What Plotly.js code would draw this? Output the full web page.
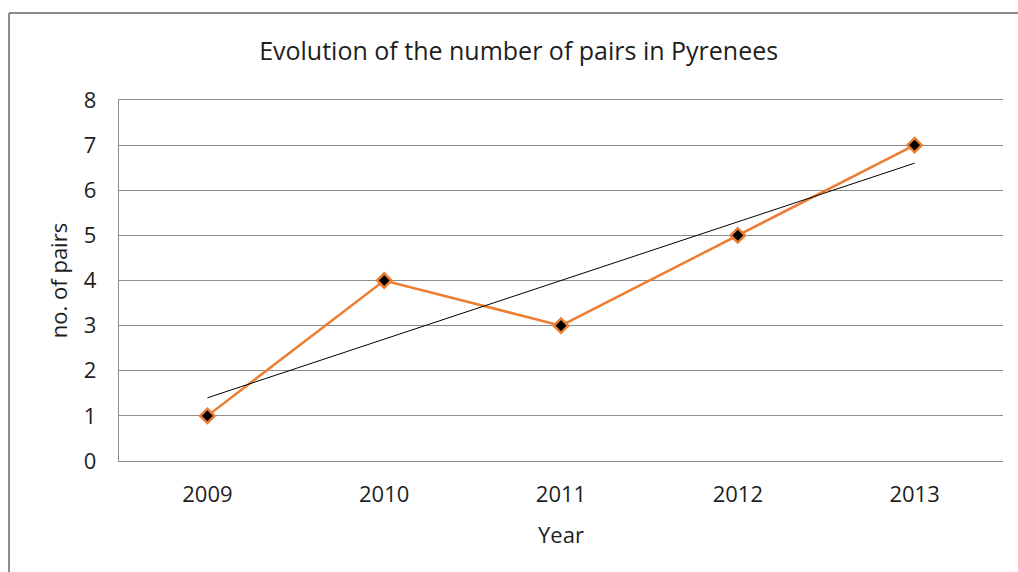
<!DOCTYPE html>
<html>
<head>
<meta charset="utf-8">
<script src="https://cdn.plot.ly/plotly-3.0.1.min.js"></script>
<style>html,body{margin:0;padding:0;background:#fff;}#chart{width:1018px;height:572px;}</style>
</head>
<body>
<div id="chart"></div>
<script>
const years = ['2009', '2010', '2011', '2012', '2013'];
const pairs = [1, 4, 3, 5, 7];
const trendYears = ['2009', '2013'];
const trendValues = [1.4, 6.6];
const yTicks = [0, 1, 2, 3, 4, 5, 6, 7, 8];

const font = '"Open Sans", "DejaVu Sans", sans-serif';
const txt = '#1e1e1e';

const data = [
  {
    x: years, y: pairs, type: 'scatter', mode: 'lines+markers',
    line: {color: '#ED7D31', width: 2.5},
    marker: {symbol: 'diamond', size: 11, color: '#000000', line: {color: '#ED7D31', width: 2.5}},
    hoverinfo: 'x+y'
  },
  {
    x: trendYears, y: trendValues, type: 'scatter', mode: 'lines',
    line: {color: '#000000', width: 1},
    hoverinfo: 'skip'
  }
];

const layout = {
  width: 1018, height: 572,
  margin: {l: 119, r: 15, t: 100, b: 111},
  paper_bgcolor: '#ffffff', plot_bgcolor: '#ffffff',
  showlegend: false,
  font: {family: font, color: txt, size: 22},
  title: {text: 'Evolution of the number of pairs in Pyrenees', x: 0.5095, xanchor: 'center', xref: 'container', y: 0.91, yanchor: 'middle',
          font: {family: font, size: 25, color: txt}},
  xaxis: {
    type: 'category', range: [-0.5, 4.5], categoryorder: 'array', categoryarray: years,
    showgrid: false, zeroline: false,
    showline: true, mirror: true, linecolor: '#8c8c8c', linewidth: 1.3,
    ticks: '', ticklabelstandoff: 13,
    tickfont: {family: font, size: 22, color: txt},
    title: {text: 'Year', standoff: 21, font: {family: font, size: 22, color: txt}}
  },
  yaxis: {
    range: [0, 8], tickvals: yTicks, ticktext: yTicks.map(String),
    showgrid: true, gridcolor: '#8c8c8c', gridwidth: 1.2,
    zeroline: false, showline: true, linecolor: '#8c8c8c', linewidth: 1.3,
    ticks: '', ticklabelstandoff: 17,
    tickfont: {family: font, size: 22, color: txt},
    title: {text: 'no. of pairs', standoff: 10, font: {family: font, size: 22, color: txt}}
  },
  shapes: [
    {type: 'line', xref: 'paper', yref: 'paper', x0: -0.1244, x1: -0.1244, y0: 1.241, y1: -0.35, line: {color: '#8c8c8c', width: 2}},
    {type: 'line', xref: 'paper', yref: 'paper', x0: -0.1244, x1: 1.05, y0: 1.241, y1: 1.241, line: {color: '#8c8c8c', width: 2}}
  ]
};

Plotly.newPlot('chart', data, layout, {displayModeBar: false, staticPlot: true});
</script>
</body>
</html>
